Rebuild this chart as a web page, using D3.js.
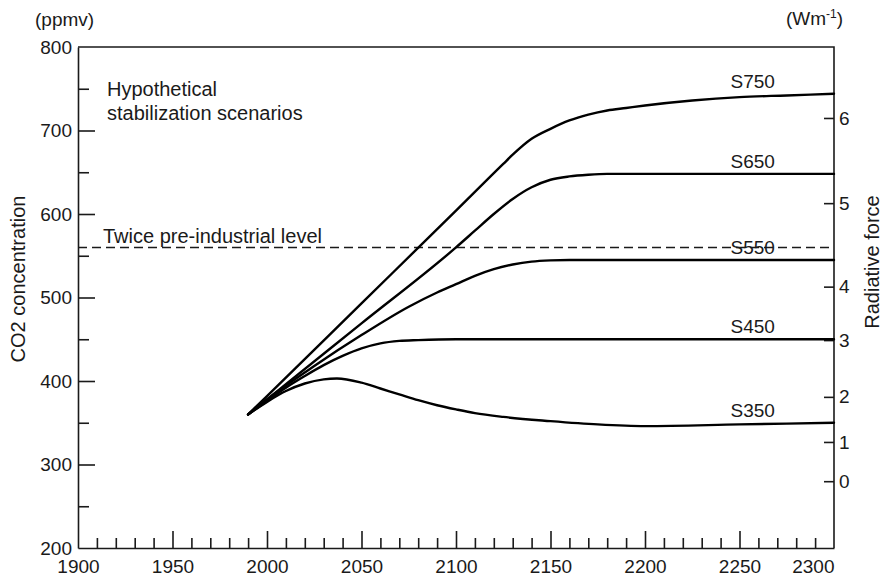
<!DOCTYPE html>
<html>
<head>
<meta charset="utf-8">
<script src="https://cdn.jsdelivr.net/npm/d3@7"></script>
<style>
  html, body { margin: 0; padding: 0; background: #fff; }
  svg { display: block; font-family: "Liberation Sans", Arial, Helvetica, sans-serif; }
  .axis text { font-size: 19px; fill: #1a1a1a; font-family: "Liberation Sans", Arial, sans-serif; }
  .axis path, .axis line { stroke: #1a1a1a; stroke-width: 1.6px; }
</style>
</head>
<body>
<script>
// ---------- data ----------
const scenarioNames = ["S350", "S450", "S550", "S650", "S750"];
const years350 = [1990, 2000, 2010, 2020, 2030, 2037, 2050, 2060, 2070, 2080, 2090, 2100, 2110, 2125, 2150, 2175, 2200, 2250, 2300];
const s350     = [ 360,  375,  388,  397,  402,  403,  398,  391,  384,  377,  371,  366,  361.5, 357, 352,  348,  346,  348,  350];
const years450 = [1990, 2000, 2010, 2020, 2030, 2040, 2050, 2060, 2070, 2080, 2100, 2150, 2200, 2250, 2300];
const s450     = [ 360,  376,  392,  406,  419,  430,  439,  445,  448,  449,  450,  450,  450,  450,  450];
const years550 = [1990, 2000, 2025, 2050, 2075, 2090, 2100, 2110, 2120, 2130, 2140, 2150, 2160, 2200, 2250, 2300];
const s550     = [ 360,  378,  418,  455,  489,  506,  516,  526,  534,  539.5, 543, 544.5, 545, 545,  545,  545];
const years650 = [1990, 2000, 2050, 2100, 2110, 2120, 2130, 2140, 2150, 2160, 2170, 2180, 2200, 2250, 2300];
const s650     = [ 360,  378,  469,  560,  580,  600,  618,  632,  641,  645,  647,  648,  648,  648,  648];
const years750 = [1990, 2000, 2050, 2100, 2125, 2130, 2140, 2150, 2160, 2170, 2180, 2190, 2200, 2225, 2250, 2275, 2300];
const s750     = [ 360,  382,  493,  604,  660,  671,  690,  702,  712,  719,  724,  727,  730,  736,  740,  742,  744];
const twicePreIndustrial = 560;
const xMajorTicks = [1900, 1950, 2000, 2050, 2100, 2150, 2200, 2250, 2300];
const xMinorTicks = d3.range(1910, 2300, 10).filter(v => v % 50 !== 0);
const yMajorTicks = [200, 300, 400, 500, 600, 700, 800];
const yMinorTicks = [250, 350, 450, 550, 650, 750];
const forcingTicks = [0, 1, 2, 3, 4, 5, 6];
const forcingPpmv  = [280, 327, 381, 449, 513, 613, 715];
const labelYear = 2257;

const series = [
  {name: scenarioNames[0], years: years350, values: s350},
  {name: scenarioNames[1], years: years450, values: s450},
  {name: scenarioNames[2], years: years550, values: s550},
  {name: scenarioNames[3], years: years650, values: s650},
  {name: scenarioNames[4], years: years750, values: s750}
];

// ---------- layout ----------
const W = 882, H = 576;
const x = d3.scaleLinear().domain([1900, 2300]).range([78, 834]);
const y = d3.scaleLinear().domain([200, 800]).range([548, 47]);

const svg = d3.select("body").append("svg").attr("width", W).attr("height", H);

// frame top and right
svg.append("path")
  .attr("d", `M${x(1900)},${y(800)}H${x(2300)}V${y(200)}`)
  .attr("fill", "none").attr("stroke", "#1a1a1a").attr("stroke-width", 1.6);

// left axis
const gl = svg.append("g").attr("class", "axis").attr("transform", `translate(${x(1900)},0)`);
gl.call(d3.axisLeft(y).tickValues(yMajorTicks).tickSize(-17).tickSizeOuter(0).tickPadding(6).tickFormat(d3.format("d")));
gl.append("g").call(d3.axisLeft(y).tickValues(yMinorTicks).tickSize(-11).tickSizeOuter(0).tickFormat(""))
  .call(g => g.select(".domain").remove());
gl.selectAll(".tick").filter(d => d === 200 || d === 800).select("line").remove();

// bottom axis
const gb = svg.append("g").attr("class", "axis").attr("transform", `translate(0,${y(200)})`);
gb.call(d3.axisBottom(x).tickValues(xMajorTicks).tickSize(-17).tickSizeOuter(0).tickPadding(12).tickFormat(d3.format("d")));
gb.append("g").call(d3.axisBottom(x).tickValues(xMinorTicks).tickSize(-10).tickSizeOuter(0).tickFormat(""))
  .call(g => g.select(".domain").remove());
gb.selectAll(".tick").filter(d => d === 1900 || d === 2300).select("line").remove();
gb.selectAll(".tick").filter(d => d === 2300).select("text").attr("text-anchor", "end");

// right axis
const gr = svg.append("g").attr("class", "axis").attr("transform", `translate(${x(2300)},0)`);
gr.call(d3.axisRight(y).tickValues(forcingPpmv).tickSize(-10).tickSizeOuter(0).tickPadding(5)
  .tickFormat((d, i) => forcingTicks[i]));
gr.select(".domain").remove();

// dashed line
svg.append("line")
  .attr("x1", x(1900)).attr("x2", x(2300))
  .attr("y1", y(twicePreIndustrial)).attr("y2", y(twicePreIndustrial))
  .attr("stroke", "#1a1a1a").attr("stroke-width", 1.5).attr("stroke-dasharray", "9,5");

// curves
const line = d3.line().x(d => x(d[0])).y(d => y(d[1])).curve(d3.curveMonotoneX);
series.forEach(s => {
  svg.append("path")
    .datum(s.years.map((yr, i) => [yr, s.values[i]]))
    .attr("d", line)
    .attr("fill", "none").attr("stroke", "#000").attr("stroke-width", 2.4)
    .attr("stroke-linejoin", "round").attr("stroke-linecap", "round");
  svg.append("text")
    .attr("x", x(labelYear)).attr("y", y(s.values[s.values.length - 1]) - 6)
    .attr("text-anchor", "middle").attr("font-size", 19).attr("fill", "#1a1a1a")
    .text(s.name);
});

// texts
const txt = (t, xx, yy, opts = {}) => svg.append("text").attr("x", xx).attr("y", yy)
  .attr("font-size", opts.size || 19).attr("fill", "#1a1a1a")
  .attr("text-anchor", opts.anchor || "start").text(t);

txt("(ppmv)", 35, 26, {size: 19});
txt("Hypothetical", 107, 96, {size: 20});
txt("stabilization scenarios", 107, 120, {size: 20});
txt("Twice pre-industrial level", 103, 243, {size: 20});

const wm = svg.append("text").attr("x", 786).attr("y", 25).attr("font-size", 19).attr("fill", "#1a1a1a");
wm.append("tspan").text("(Wm");
wm.append("tspan").attr("font-size", 12).attr("dy", -7).text("-1");
wm.append("tspan").attr("dy", 7).text(")");

svg.append("text").attr("transform", `translate(25,279) rotate(-90)`)
  .attr("text-anchor", "middle").attr("font-size", 20).attr("fill", "#1a1a1a").text("CO2 concentration");
svg.append("text").attr("transform", `translate(879,262) rotate(-90)`)
  .attr("text-anchor", "middle").attr("font-size", 20).attr("fill", "#1a1a1a").text("Radiative force");
</script>
</body>
</html>
